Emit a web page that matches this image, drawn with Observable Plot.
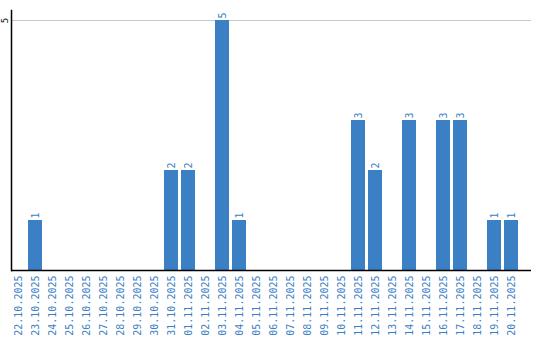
<!DOCTYPE html>
<html><head><meta charset="utf-8">
<script src="https://cdn.jsdelivr.net/npm/d3@7"></script>
<script src="https://cdn.jsdelivr.net/npm/@observablehq/plot@0.6"></script>
<style>body{margin:0;background:#fff}</style>
</head><body><div id="chart"></div>
<script>
const dates = ["22.10.2025","23.10.2025","24.10.2025","25.10.2025","26.10.2025","27.10.2025","28.10.2025","29.10.2025","30.10.2025","31.10.2025","01.11.2025","02.11.2025","03.11.2025","04.11.2025","05.11.2025","06.11.2025","07.11.2025","08.11.2025","09.11.2025","10.11.2025","11.11.2025","12.11.2025","13.11.2025","14.11.2025","15.11.2025","16.11.2025","17.11.2025","18.11.2025","19.11.2025","20.11.2025"];
const counts = [0,1,0,0,0,0,0,0,0,2,2,0,5,1,0,0,0,0,0,0,3,2,0,3,0,3,3,0,1,1];
const yTicks = [5];
const data = dates.map((d,i)=>({date:d, count:counts[i]}));
const nonzero = data.filter(d=>d.count>0);
const blue = "#3b7fc4";
const chart = Plot.plot({
  width: 540, height: 340,
  marginLeft: 11, marginRight: 9, marginTop: 10, marginBottom: 70,
  style: {fontFamily: "DejaVu Sans Mono", fontSize: "10px", background: "#fff"},
  x: {domain: dates, paddingInner: 3/17, paddingOuter: 0.382, align: 0, label: null},
  y: {domain: [0, 5.2], label: null},
  marks: [
    Plot.ruleY(yTicks, {stroke: "#c8c8c8"}),
    Plot.barY(data, {x: "date", y: "count", fill: blue}),
    Plot.text(nonzero, {x: "date", y: "count", text: d=>String(d.count), rotate: -90, textAnchor: "start", dy: -2, fill: blue, fontSize: 10}),
    Plot.axisX({tickRotate: -90, tickSize: 0, tickPadding: 5, fill: blue, fontSize: 10}),
    Plot.axisY(yTicks, {tickSize: 0, tickRotate: -90, tickPadding: 0, tickFormat: d=>String(d), textAnchor: "middle", dx: -4, fill: "#000", fontSize: 9}),
    Plot.frame({anchor: "left", stroke: "#000", strokeWidth: 1.5}),
    Plot.ruleY([0], {stroke: "#000", strokeWidth: 1.5})
  ]
});
document.getElementById("chart").appendChild(chart);
</script></body></html>
